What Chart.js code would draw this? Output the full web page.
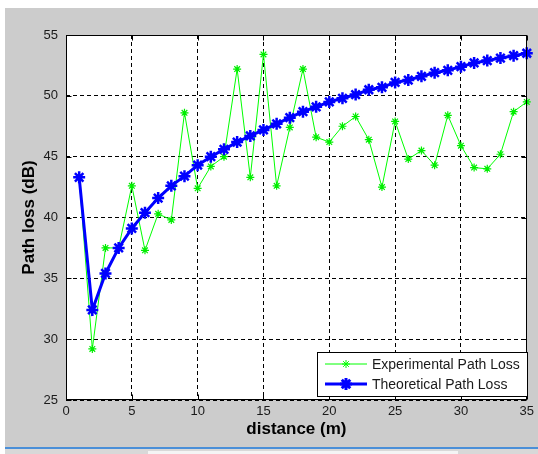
<!DOCTYPE html>
<html>
<head>
<meta charset="utf-8">
<script src="https://cdn.jsdelivr.net/npm/chart.js@4/dist/chart.umd.min.js"></script>
<style>
  html, body { margin: 0; padding: 0; background: #ffffff; }
  canvas { display: block; }
</style>
</head>
<body>
<canvas id="c" width="538" height="454"></canvas>
<script>
const distances = [1,2,3,4,5,6,7,8,9,10,11,12,13,14,15,16,17,18,19,20,21,22,23,24,25,26,27,28,29,30,31,32,33,34,35];
const experimental = [43.3,29.2,37.5,37.5,42.6,37.3,40.3,39.8,48.6,42.4,44.2,45.0,52.2,43.3,53.4,42.6,47.4,52.2,46.6,46.2,47.5,48.3,46.4,42.5,47.9,44.8,45.5,44.3,48.4,45.9,44.1,44.0,45.2,48.7,49.5];
const theoretical = [43.3,32.4,35.4,37.5,39.1,40.4,41.6,42.6,43.4,44.3,45.0,45.6,46.2,46.7,47.2,47.7,48.2,48.7,49.1,49.5,49.8,50.1,50.5,50.7,51.1,51.3,51.6,51.9,52.1,52.4,52.7,52.9,53.1,53.3,53.5];
const seriesNames = ['Experimental Path Loss', 'Theoretical Path Loss'];
const xTitle = 'distance (m)';
const yTitle = 'Path loss (dB)';

const toPts = (ys) => distances.map((d, i) => ({x: d, y: ys[i]}));

const FONT = "'Liberation Sans', Arial, sans-serif";

const bgPlugin = {
  id: 'bg',
  beforeDraw(chart) {
    const ctx = chart.ctx;
    ctx.save();
    ctx.fillStyle = '#ffffff';
    ctx.fillRect(0, 0, chart.width, chart.height);
    ctx.fillStyle = '#cccccc';
    ctx.fillRect(5, 8, chart.width - 5, 439);
    ctx.fillStyle = '#4a8fd8';
    ctx.fillRect(5, 447, chart.width - 5, 2);
    ctx.fillStyle = '#d8d8d8';
    ctx.fillRect(5, 449, chart.width - 5, 5);
    ctx.fillStyle = '#f4f4f4';
    ctx.fillRect(148, 451, 310, 3);
    const a = chart.chartArea;
    ctx.fillStyle = '#ffffff';
    ctx.fillRect(a.left, a.top, a.right - a.left, a.bottom - a.top);
    ctx.restore();
  }
};

const boxPlugin = {
  id: 'box',
  afterDatasetsDraw(chart) {
    const ctx = chart.ctx;
    const a = chart.chartArea;
    const xs = chart.scales.x, ys = chart.scales.y;
    ctx.save();
    ctx.strokeStyle = '#000000';
    ctx.lineWidth = 1;
    ctx.setLineDash([]);
    const L = Math.round(a.left) + 0.5, R = Math.round(a.right) - 0.5;
    const T = Math.round(a.top) + 0.5, B = Math.round(a.bottom) - 0.5;
    ctx.beginPath();
    ctx.rect(L, T, R - L, B - T);
    ctx.stroke();
    const tl = 5;
    ctx.beginPath();
    xs.ticks.forEach(t => {
      const p = Math.round(xs.getPixelForValue(t.value)) + 0.5;
      ctx.moveTo(p, B); ctx.lineTo(p, B - tl);
      ctx.moveTo(p, T); ctx.lineTo(p, T + tl);
    });
    ys.ticks.forEach(t => {
      const p = Math.round(ys.getPixelForValue(t.value)) + 0.5;
      ctx.moveTo(L, p); ctx.lineTo(L + tl, p);
      ctx.moveTo(R, p); ctx.lineTo(R - tl, p);
    });
    ctx.stroke();

    // legend box inside the axes
    const bx = 317, by = 352, bw = 211, bh = 45;
    ctx.fillStyle = '#ffffff';
    ctx.fillRect(bx, by, bw, bh);
    ctx.strokeStyle = '#000000';
    ctx.strokeRect(bx + 0.5, by + 0.5, bw - 1, bh - 1);
    const rows = [12, 32];
    chart.data.datasets.forEach((ds, i) => {
      const yy = by + rows[i];
      ctx.strokeStyle = ds.borderColor;
      ctx.lineWidth = ds.borderWidth;
      ctx.beginPath();
      ctx.moveTo(bx + 8, yy); ctx.lineTo(bx + 50, yy);
      ctx.stroke();
      Chart.helpers.drawPoint(ctx, {
        pointStyle: 'star', rotation: 0,
        radius: ds.pointRadius, borderWidth: ds.pointBorderWidth
      }, bx + 29, yy);
      ctx.fillStyle = '#1a1a1a';
      ctx.font = '14px ' + FONT;
      ctx.textBaseline = 'middle';
      ctx.textAlign = 'left';
      ctx.fillText(ds.label, bx + 55, yy + 1);
    });
    ctx.restore();
  }
};

new Chart(document.getElementById('c'), {
  type: 'line',
  data: {
    datasets: [
      {
        label: seriesNames[0],
        data: toPts(experimental),
        borderColor: '#00ff00',
        backgroundColor: '#00ff00',
        borderWidth: 1,
        pointStyle: 'star',
        pointRadius: 4,
        pointBorderWidth: 1.2,
        pointBorderColor: '#00ee00',
        tension: 0,
        clip: false,
        order: 2
      },
      {
        label: seriesNames[1],
        data: toPts(theoretical),
        borderColor: '#0000ff',
        backgroundColor: '#0000ff',
        borderWidth: 3,
        pointStyle: 'star',
        pointRadius: 6,
        pointBorderWidth: 2.5,
        tension: 0,
        clip: false,
        order: 1
      }
    ]
  },
  options: {
    responsive: false,
    devicePixelRatio: 1,
    animation: false,
    events: [],
    layout: { padding: { left: 0, right: 9, top: 35, bottom: 0 } },
    plugins: {
      legend: { display: false },
      tooltip: { enabled: false },
      title: { display: false }
    },
    scales: {
      x: {
        type: 'linear',
        min: 0, max: 35,
        afterFit(s) { s.height = 54; },
        ticks: {
          stepSize: 5,
          padding: 4,
          color: '#1a1a1a',
          font: { family: FONT, size: 13 },
          maxRotation: 0
        },
        grid: { color: '#000000', lineWidth: 1, drawTicks: false },
        border: { display: false, dash: [4, 3] },
        title: {
          display: true,
          text: xTitle,
          color: '#000000',
          font: { family: FONT, size: 17, weight: 'bold' },
          padding: { top: 0, bottom: 14 }
        }
      },
      y: {
        type: 'linear',
        min: 25, max: 55,
        afterFit(s) { s.width = 66; },
        ticks: {
          stepSize: 5,
          padding: 8,
          color: '#1a1a1a',
          font: { family: FONT, size: 13 }
        },
        grid: { color: '#000000', lineWidth: 1, drawTicks: false },
        border: { display: false, dash: [4, 3] },
        title: {
          display: true,
          text: yTitle,
          color: '#000000',
          font: { family: FONT, size: 17, weight: 'bold' },
          padding: { top: 19, bottom: 0 }
        }
      }
    }
  },
  plugins: [bgPlugin, boxPlugin]
});
</script>
</body>
</html>
